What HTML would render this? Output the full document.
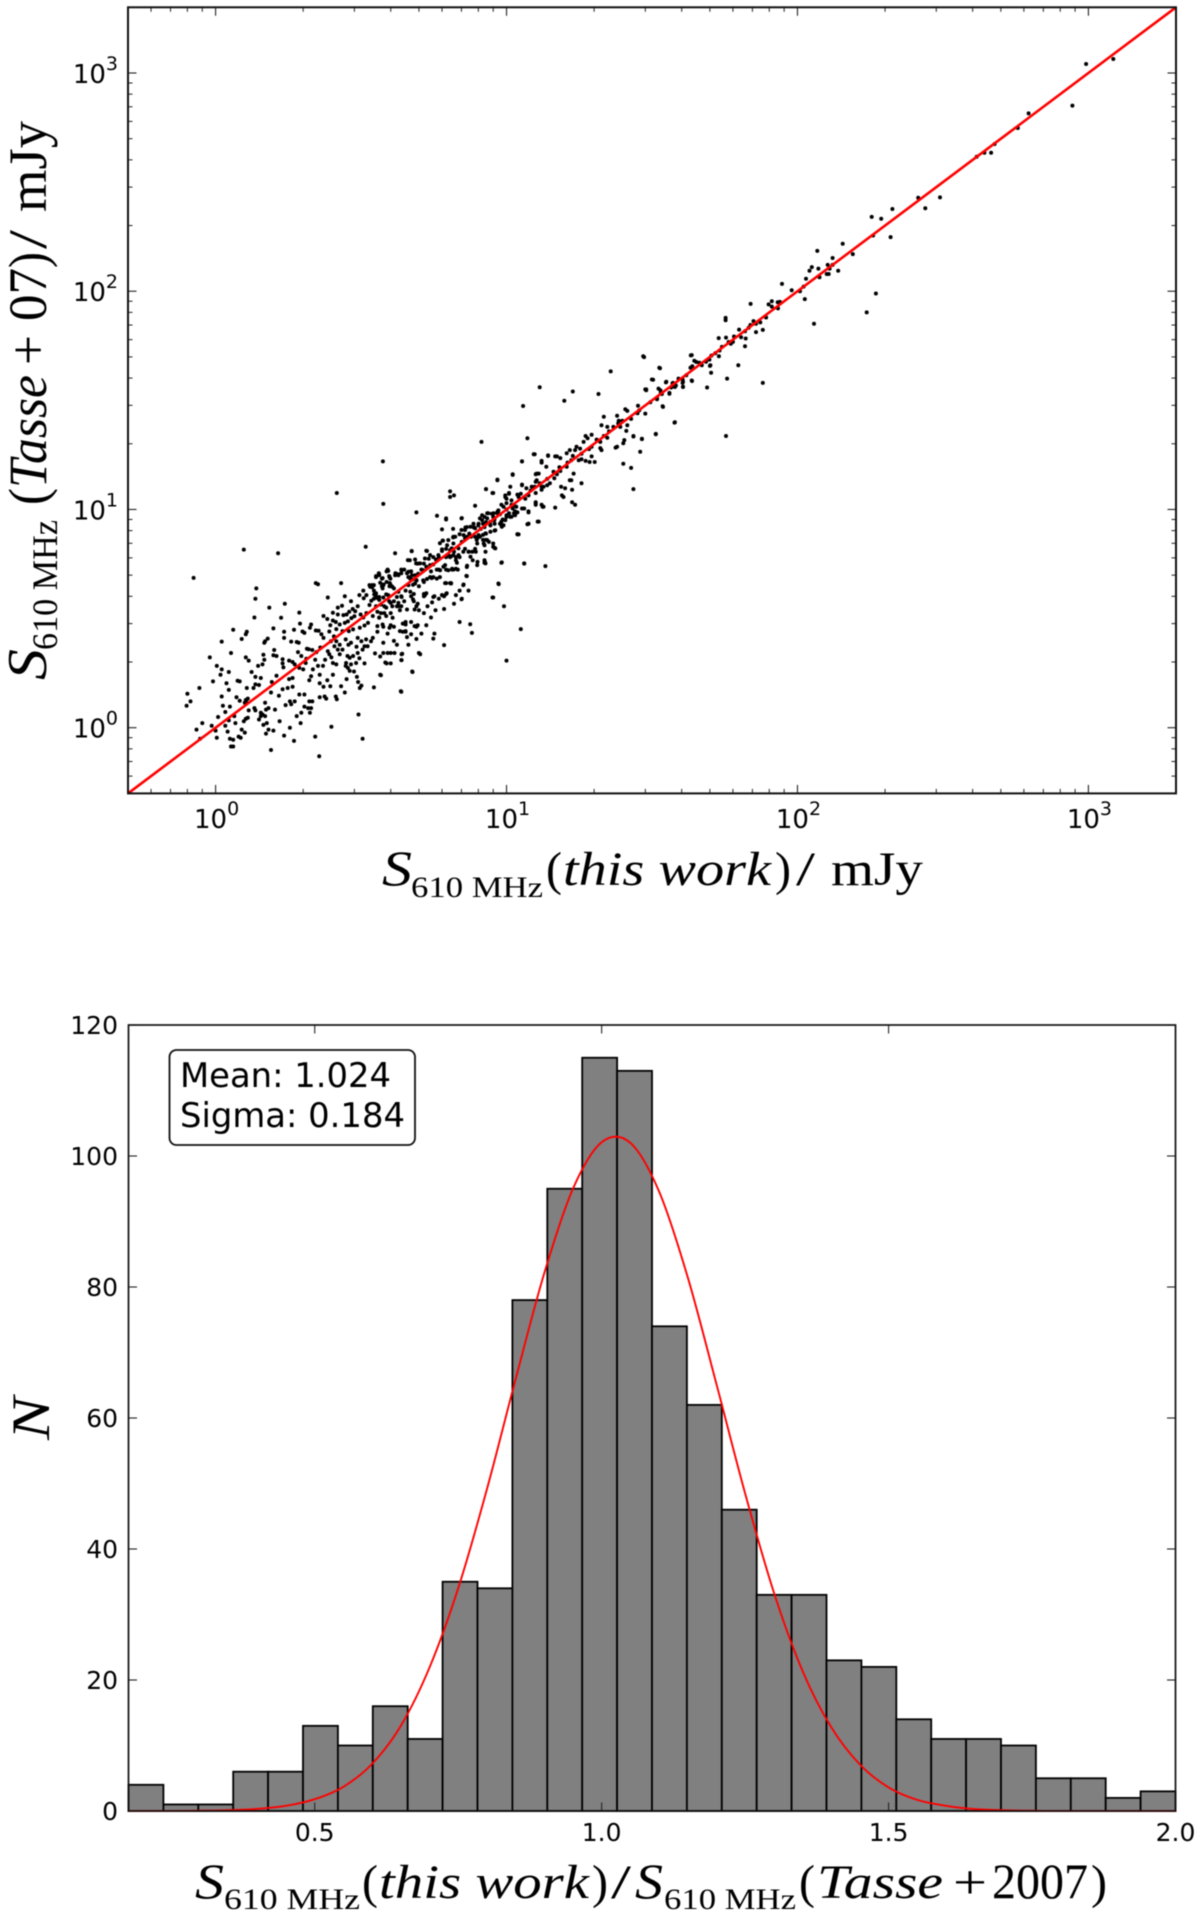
<!DOCTYPE html>
<html lang="en">
<head>
<meta charset="utf-8">
<title>S610 MHz flux comparison</title>
<style>
html,body{margin:0;padding:0;background:#fff;}
#figure{display:block;width:1200px;height:1914px;filter:blur(.45px);}
.sans{font-family:"DejaVu Sans","Liberation Sans",sans-serif;fill:#000;}
.serif{font-family:"Liberation Serif",serif;fill:#000;}
.it{font-style:italic;}
</style>
</head>
<body>
<svg id="figure" xmlns="http://www.w3.org/2000/svg" width="1200" height="1914" viewBox="0 0 1200 1914">
  <rect x="0" y="0" width="1200" height="1914" fill="#fff"/>

  <g id="top-plot">
    <g id="top-points"></g>
    <line id="one-to-one" stroke="#f00" stroke-width="2.6"/>
    <g id="top-ticks"></g>
    <rect x="128" y="7.3" width="1048" height="786.1" fill="none" stroke="#111" stroke-width="2"/>
    <g id="top-tick-labels"></g>
  </g>

  <g>
    <text class="serif it" x="382" y="885" font-size="50" textLength="30" lengthAdjust="spacingAndGlyphs">S</text>
    <text class="serif" x="411" y="897" font-size="30" textLength="132" lengthAdjust="spacingAndGlyphs">610 MHz</text>
    <text class="serif" x="546" y="885" font-size="48" textLength="16" lengthAdjust="spacingAndGlyphs">(</text>
    <text class="serif it" x="563" y="885" font-size="48" textLength="208" lengthAdjust="spacingAndGlyphs">this work</text>
    <text class="serif" x="775" y="885" font-size="48" textLength="16" lengthAdjust="spacingAndGlyphs">)</text>
    <text class="serif" x="796" y="885" font-size="48" textLength="19" lengthAdjust="spacingAndGlyphs">/</text>
    <text class="serif" x="831" y="885" font-size="48" textLength="92" lengthAdjust="spacingAndGlyphs">mJy</text>
  </g>

  <g transform="translate(46,0) rotate(-90)">
    <text class="serif it" x="-680" y="0" font-size="56" textLength="31" lengthAdjust="spacingAndGlyphs">S</text>
    <text class="serif" x="-650" y="11" font-size="36" textLength="130" lengthAdjust="spacingAndGlyphs">610 MHz</text>
    <text class="serif" x="-505" y="0" font-size="54" textLength="17" lengthAdjust="spacingAndGlyphs">(</text>
    <text class="serif it" x="-488" y="0" font-size="54" textLength="113" lengthAdjust="spacingAndGlyphs">Tasse</text>
    <text class="serif" x="-365" y="0" font-size="54" textLength="30" lengthAdjust="spacingAndGlyphs">+</text>
    <text class="serif" x="-321" y="0" font-size="54" textLength="53" lengthAdjust="spacingAndGlyphs">07</text>
    <text class="serif" x="-268" y="0" font-size="54" textLength="16" lengthAdjust="spacingAndGlyphs">)</text>
    <text class="serif" x="-249" y="0" font-size="54" textLength="19" lengthAdjust="spacingAndGlyphs">/</text>
    <text class="serif" x="-212" y="0" font-size="54" textLength="91" lengthAdjust="spacingAndGlyphs">mJy</text>
  </g>

  <g id="bottom-plot">
    <g id="bars"></g>
    <path id="gauss-curve" fill="none" stroke="#f00" stroke-width="1.9"/>
    <g id="bottom-ticks"></g>
    <rect x="128.5" y="1025" width="1047" height="786" fill="none" stroke="#111" stroke-width="1.7"/>
    <g id="bottom-tick-labels"></g>
    <g>
      <rect x="169.5" y="1050" width="245.5" height="95" rx="7" ry="7" fill="#fff" stroke="#111" stroke-width="1.8"/>
      <text class="sans" x="180" y="1087" font-size="34" textLength="211" lengthAdjust="spacingAndGlyphs">Mean: 1.024</text>
      <text class="sans" x="180" y="1127" font-size="34" textLength="225" lengthAdjust="spacingAndGlyphs">Sigma: 0.184</text>
    </g>
  </g>

  <g>
    <text class="serif it" x="195" y="1898" font-size="50" textLength="29" lengthAdjust="spacingAndGlyphs">S</text>
    <text class="serif" x="224" y="1909" font-size="30" textLength="136" lengthAdjust="spacingAndGlyphs">610 MHz</text>
    <text class="serif" x="362" y="1898" font-size="48" textLength="16" lengthAdjust="spacingAndGlyphs">(</text>
    <text class="serif it" x="379" y="1898" font-size="48" textLength="210" lengthAdjust="spacingAndGlyphs">this work</text>
    <text class="serif" x="592" y="1898" font-size="48" textLength="16" lengthAdjust="spacingAndGlyphs">)</text>
    <text class="serif" x="611" y="1898" font-size="48" textLength="20" lengthAdjust="spacingAndGlyphs">/</text>
    <text class="serif it" x="635" y="1898" font-size="50" textLength="28" lengthAdjust="spacingAndGlyphs">S</text>
    <text class="serif" x="664" y="1909" font-size="30" textLength="132" lengthAdjust="spacingAndGlyphs">610 MHz</text>
    <text class="serif" x="799" y="1898" font-size="48" textLength="16" lengthAdjust="spacingAndGlyphs">(</text>
    <text class="serif it" x="817" y="1898" font-size="48" textLength="126" lengthAdjust="spacingAndGlyphs">Tasse</text>
    <text class="serif" x="953" y="1898" font-size="48" textLength="34" lengthAdjust="spacingAndGlyphs">+</text>
    <text class="serif" x="992" y="1898" font-size="50" textLength="96" lengthAdjust="spacingAndGlyphs">2007</text>
    <text class="serif" x="1091" y="1898" font-size="48" textLength="16" lengthAdjust="spacingAndGlyphs">)</text>
  </g>

  <text class="serif it" transform="translate(49,1440) rotate(-90)" x="0" y="0" font-size="54" textLength="43" lengthAdjust="spacingAndGlyphs">N</text>
</svg>

<script>
/* Scatter: [S610 this work (mJy), S610 Tasse+07 (mJy)], estimated by eye */
const fluxPairs = [
[.84,4.86],[1.25,6.55],[1.64,6.3],[3.76,16.6],[2.61,11.9],[3.77,10.6],[3.28,6.75],[4.14,6.3],[4.72,6.43],[5.33,6.45],[4.9,9.7],[5.77,9.35],[6.2,9],[7,9.1],[7.8,10.4],
[.8,1.43],[.82,1.32],[.795,1.26],[.88,1.52],[.9,1.05],[.86,.98],[.885,.89],[.955,2.1],[1.01,1.92],[1.05,1.85],[1.04,1.75],[1.11,1.8],[.98,1.63],[1.13,2.2],[1.05,2.48],[1.15,2.81],[1.23,2.55],[1.28,2.75],[1.27,2.68],[1.27,2.1],[1.3,2.03],[1.38,4.35],[1.37,3.9],[1.36,3.2],[1.53,3.55],[1.73,3.7],[1.68,3.19],[1.58,2.85],[1.51,2.56],[1.47,2.45],[1.48,2.49],[1.46,2.16],[1.47,2.05],[1.59,2.27],[1.62,2.13],[1.94,3.37],[1.95,3],[1.86,2.81],[1.99,2.76],[2.02,2.72],[2.13,2.97],[2.11,2.87],[2.21,2.79],[2.26,2.78],[2.21,4.6],[2.25,4.54],[2.43,3.95],[2.7,4.6],[1.72,2.75],[1.72,2.58],[1.82,2.48],[1.9,2.47],[1.93,2.45],[1.58,2.15],[1.4,1.92],[1.33,1.8],[1.45,1.95],[1.37,1.71],[1.43,1.69],[1.37,1.58],[1.41,1.57],[1.19,1.64],[1.21,1.63],[1.09,1.6],[1.11,1.49],[1.28,1.52],[1.05,1.39],[1.21,1.33],[1.27,1.34],[1.29,1.36],[1.26,1.3],[1.28,1.3],[1.06,1.26],[1.08,1.18],[1.16,1.13],[1.11,1.08],[1.17,1.05],[.97,1.02],[1,.97],[1.01,.9],[1.1,.96],[1.12,.89],[1.15,.88],[1.2,.91],[1.22,.9],[1.23,.98],[1.26,.95],[1.13,.82],[1.15,.82],[1.55,.79],[1.49,.94],[1.52,.98],[1.46,1.03],[1.25,1.07],[1.27,1.1],[1.29,1.11],[1.36,1.23],[1.37,1.2],[1.48,1.3],[1.49,1.21],[1.52,1.23],[1.45,1.15],[1.43,1.13],[1.41,1.09],[1.48,1.13],[1.43,1.17],[1.6,1.21],[1.66,1.07],[1.8,1],[1.86,.87],[2.2,.91],[2.5,1.01],[2.27,.74],[3.1,1.15],[3.2,.89],[4.33,1.47],[3.5,1.53],[3.68,1.75],[3.83,1.99],[4.74,1.81],[4.35,2.04],[4.38,2.18],[4,2.2],[3.68,2.12],[3.53,2.19],[3.13,1.52],[3.17,1.56],[3.09,1.62],[3.06,1.71],[2.99,1.81],[2.82,1.67],
[1.7,2.06],[1.7,1.97],[1.71,1.89],[1.79,2.03],[1.84,2],[1.87,1.95],[1.97,2.13],[2.05,2.07],[2.09,2.29],[2.15,2.27],[2.06,2.3],[2.29,2.33],[2.31,2.68],[2.35,2.58],[2.46,2.76],[2.6,2.83],[2.49,2.49],[2.56,2.36],[2.43,2.24],[2.46,2.17],[2.63,2.28],[2.67,2.17],[2.53,1.98],[2.6,1.95],[2.25,1.92],[2.34,1.92],[2.16,1.85],[2.13,1.72],[2.1,1.65],[2.28,1.75],[1.94,1.88],[2,1.85],[1.84,1.69],[1.79,1.67],[1.7,1.5],[1.77,1.52],[1.84,1.54],[1.94,1.42],[2.02,1.42],[1.8,1.32],[1.87,1.32],[1.82,1.28],[2.1,1.32],[2.15,1.32],[2.08,1.23],[2.13,1.23],[2.11,1.17],[1.97,1.17],[2.28,1.38],[2.37,1.39],[2.4,1.36],[2.59,1.39],[2.61,1.35],[2.35,1.54],[2.53,1.75],[2.81,1.98],[2.85,1.88],[2.89,1.82],[2.8,1.92],[2.92,1.95],[3.25,1.97],[3.04,1.98],[2.97,2.13],[2.84,2.13],[2.89,2.09],[2.73,2.28],[2.67,2.4],[2.6,2.49],
[2.53,3.36],[2.63,3.3],[2.63,3.55],[2.78,4],[2.92,3.8],[2.88,3.4],[3,3.24],[3.08,3.6],[3.23,3.92],[2.53,3.1],[2.59,3.05],[2.67,2.97],[2.78,3.02],[2.85,3.07],[2.93,3.18],[2.73,2.77],[2.87,2.77],[2.97,2.82],[3.13,2.87],[3.25,2.94],[3.34,3.02],[2.8,2.54],[2.92,2.45],[3.08,2.58],[3.17,2.49],[3.25,2.36],[3.33,2.36],[3.42,2.49],[3.47,2.58],[3.29,2.54],[3.38,4.5],[3.56,4.95],[3.64,5.1],[3.9,5.3],[3.75,4.85],[3.96,4.9],[3.51,4.08],[3.56,4],[3.6,3.93],[3.75,4.35],[3.96,4.45],[3.86,4.08],[4.2,5.05],[4.35,5.3],[4.55,5.1],[4.7,5.2],[4.77,4.78],[4.77,4.52],[3.56,3.6],[3.7,3.67],[3.86,3.55],[4,3.73],[4.2,3.6],[4.35,3.6],[4.55,3.48],[4.77,3.87],[4.83,3.48],[3.47,3.25],[3.65,3.19],[3.86,3.25],[4.06,3.19],[4.25,3.73],[4.5,2.97],[4.83,2.92],[4.3,2.77],[4.5,2.77],[3.96,2.87],[3.75,2.97],[3.6,2.92],[4.55,2.6],[5,2.2],
[6.4,12.1],[6.6,11.6],[6.4,11.4],[8.5,12.4],[8.95,11.9],[9.3,13.6],[10.5,14.5],[11.3,16.6],[12.5,17.9],[13.2,16.4],[13.9,17.7],[9.9,11.6],[10.2,11.8],[10,11.2],[11.2,11.8],[11.3,12.9],[12.1,12.2],[12.5,12.7],[12.9,14.6],[12.6,13.4],[13.2,12.7],[9.6,10.5],[10,10.7],[10.5,10.1],[10.9,9.7],[11.9,9.7],[12.6,10.7],[13.4,10.3],[12.8,8.8],[11.9,8.6],[9.3,9.6],[9.7,9],[10.2,9.6],[9.6,8.5],[9.1,8],[10.9,7.7],[11.5,5.65],[13.6,5.5],[9.4,4.55],[8.95,3.95],[9.8,3.6],[11.2,2.83],[10,2.03],[7.6,2.72],[7.5,2.98],[6.9,3.05],[6.1,2.39],[5.65,2.7],[5.6,2.56],[5.05,2.17],[4.75,1.8],[4.35,1.46],[4,1.97],[4.36,2.04],[4.36,2.17],[3.87,1.97],[3.7,1.74],[6.1,4],[6.2,4.1],[6,4.05],[5.65,4],[5.85,3.9],[7,3.88],[7.1,4.5],[7.3,4.95],[6.2,4.6],[6.4,4.6],[6.1,3.5],[5,3.45],[5.2,3.35],[5.2,4.1],[5.2,4],[4.95,3.7],[4.9,3.6],[4.7,3.05],[4.95,2.95],[4.9,2.9],[4.5,3.05],[4.4,3],[4.5,2.75],[4.4,2.75],[4.1,2.9],[3.9,2.7],[3.77,2.9],[4,2.95],[3.77,2.45],[3.6,2.75],[3.77,2.2],[3.9,2.2],
[5.2,4.65],[5.33,4.8],[5,4.45],[5.6,4.9],[5.9,4.9],[5.1,5.3],[5.6,5.6],[5.85,5.3],[4.95,5.65],[5.2,5.65],[5.4,5.95],[5.6,6.05],[5.85,6.05],[6.2,6.05],[6.4,6.05],[6.7,5.85],[6.5,5.3],[6.7,5.35],[4.65,5.85],[4.7,5.2],[4.45,5.3],[4.35,5.1],[4.85,5],[4.6,4.9],[4.25,5],[4.15,5.1],[3.87,5.2],[3.95,4.95],[3.65,5],[3.5,4.5],[3.45,4.4],[3.87,4.65],[4,4.5],[3.77,4.5],[4.1,4.35],[4.25,4.2],[4.5,4.25],[4.7,4],[4.35,4],[4.45,3.8],[4.8,4.1],[4.8,3.8],[4.05,3.6],[4.25,3.6],[4.3,3.45],[4,3.35],[3.8,3.6],[3.7,3.35],[3.6,3.4],[3.65,3.2],[3.8,3.35],[3.55,4.1],[3.6,3.95],[3.65,3.85],[3.5,3.9],[3.77,3.95],[3.95,3.8],[4.1,3.8],
[5.9,7],[6.05,7.2],[6.2,6.6],[6.4,6.5],[6.45,6.1],[6.6,6.4],[6.7,6.05],[7.2,6.6],[7.4,6.4],[7.8,6.6],[7.55,7.5],[7.9,7.25],[7.2,7.35],[6,8.1],[6.55,8.15],[7,8.05],[7.3,8.3],[7.8,8.2],[8.4,8.3],[8.3,8.6],[8.1,9.1],[8.4,9.25],[8.65,9.6],[9,9.25],[9.3,9.75],[7.45,7.75],[8,8.45],[8.5,8.75],[8.8,8.45],[9.1,8.6],[9.6,8.8],[8.5,7.75],[8.7,7.1],[8.4,6.85],[9,6.75],[8.3,7.25],[7.8,7.5],[9.6,5.7],[8.4,5.7],[7.95,5.75],[7.3,5.45],[6.8,5.3],[6.5,5.35],[6.2,5.3],[6.45,4.6],[7.65,5.85],[7.1,6.4],[6.9,6.05],[8.4,5.85],[8.1,7.5],[8.3,7.65],[8.5,7.25],
[8.2,20.4],[11.4,29.8],[11.8,21.2],[13,36.3],[15.8,31.5],[16.9,34.7],[20.7,33.8],[22.8,42.9],[29.7,49.9],[33.7,44.4],[43,50.8],[44.9,47.4],[42.9,44.6],[43.4,38.8],[40.4,38.5],[40.4,36.4],[37.9,36.4],[36.3,33.9],[37.2,37.8],[35.3,38.2],[31.9,39.3],[30.2,35.2],[33.3,35.8],[33.8,35.2],[32.9,32],[34.5,29.5],[37.8,25],[32.6,22.2],[28.8,18.4],[29.2,21],[27.3,21.7],[26.8,15.5],[25.2,16.2],[27.3,12.4],[28.3,29.9],[30,27.5],[28.6,28.5],[25.6,28.8],[26,28.3],[26,24.3],[25.8,22.9],[24.6,23.9],[25,25.5],[24,26.9],[24.3,25.5],[23.3,23.9],[22.2,23.9],[21.6,26.6],[21.2,24.3],[25.4,20.8],[25.2,20.1],[24,19.4],[23.7,19.2],[22.2,21.3],[21.6,21.7],[18.7,21.7],[19,21.2],[18.4,20.4],[19.6,22],[20.4,20.9],[21,20.4],[21.2,18.7],[21,19.1],[20.1,16.5],[19.6,17.5],[19.3,16.5],[17.9,19],[17.4,19.4],[17.2,18.7],[18.1,18],[18.1,17],[17.7,16.8],[18.7,16.7],[16.5,18.7],[16.1,18.1],[15.3,17.2],[14.9,17.5],[13.9,17.6],[14.7,17.5],[12.4,17.9],[13.2,16.7],[13.7,15.7],[11.3,16.6],[16.7,16.8],[16.1,15.7],[17,14.6],[16.5,13.6],[18.1,13.2],[16.7,13.6],[14.6,13.9],[15.3,15],[14.9,14.5],[12.6,14.5],[12.7,14.6],[10.5,14.4],[9.3,13.7],[8.5,12.4],[9,11.9],[12.7,13.6],[13,13.2],[13.4,12.7],[13.8,12.9],[14.1,13.2],[13.2,12.3],[12.6,11.9],[12.2,12.7],[11.7,12.5],[11.3,13],[10.3,12.7],[10.2,11.9],[9.9,11.4],[11,11.4],[15.4,12.7],[15.9,12.5],[16.8,12.3],[15.7,11.4],[15.5,11.6],[16.8,10.8],[17.2,10.5],[14.7,10.2],[13.3,10.3],[13.2,10.5],[12.6,10.8],[12.6,10.5],[11.5,10.1],[11.9,9.8],[10.8,10.3],[10.4,10.5],[11.9,8.6],[12.9,8.8],[10.9,7.7],[9.1,6.67],[10.7,9.8],[10.6,9.6],[10,9.25],[10.3,9.25],[19.6,19.4],
[982,1100],[1218,1159],[881,709],[623,653],[572,560],[476,473],[463,431],[439,431],[413,413],[309,269],[260,268],[275,240],[212,238],[194,215],[180,219],[182,180],[209,177],[186,97.6],[173,80],[143,165],[155,148],[117,153],[132,142],[127,132],[132,132],[112,129],[110,124],[118,127],[129,127],[138,124],[126,120],[128,120],[119,116],[107,114],[105,105],[88.5,108],[95.5,101],[102,100],[106,92],[114,71],[87,89.4],[85.5,89],[81.6,90],[79.6,87],[81.6,85],[85.7,83.4],[69,87.5],[78,75.8],[74.5,72],[70.6,73],[68.9,70],[76,66.5],[72,65],[56.6,75.5],[56.6,73.6],[63,66.7],[66,65.6],[64,61.5],[66.4,60.7],[66,56],[56.8,61.3],[53.6,61],[60,58.6],[59,57.5],[53.7,50.4],[54,53.5],[50.6,50.7],[49.8,48.6],[50.2,45.8],[50,45.5],[46.9,45.8],[50.5,42.3],[43.5,45.3],[44.2,48],[43.3,51],[43.3,39],[48.9,36.2],[57.3,39.8],[62.6,45.8],[76,38],[33.5,44.6],[29.5,50.4],[31.6,39.4],[30,35.5],[33.9,34.2],[35.4,38.5],[37.3,38],[38.2,37],[40.3,39.4],[40.3,38],[40.4,36.5],[36.3,34.2],[32.9,32.4],[30.2,35.5],[34.4,29.7],[37.9,25.1],[32.6,22.1],[56.8,21.7],[29.2,21.1],[27.3,21.6],
[2.35,3.25],[2.42,3.15],[2.48,2.95],[2.55,2.62],[2.72,3.62],[2.75,3.28],[2.82,3.3],[2.96,3.5],[3.02,3.42],[3.15,3.3],[3.22,3.2],[3.3,3.35],[3.38,3.65],[3.43,3.82],[3.3,4.05],[3.22,4.25],[3.12,4.05],[3.5,4.25],[3.68,4.62],[5.5,5.2],[5.72,5.9],[6,6.45],[6.25,6.85],[6.55,7.45],[6.9,7.7],[7.2,8.05],[7.7,8.6],[8.15,8.15],[8.9,9.55],[9.1,9.1],[9.5,9.5],[10,10],[10.4,11],[10.9,11.7],[11.6,11.2],[11.9,11.6],[13.8,13.8],[14.5,14.9],[15.2,15.6],[16.2,16.4],[16.9,17.6],[19.2,18.9],[22.5,22.8],[24.2,24.8],[26.8,26],[28.2,27.6],[31.2,31],[34.2,33.8],[36.8,36.2],[39,39.8],[41.5,41.2],[46,47],[48.5,47.5],[52.2,52],[55,55.6],[58,58.5],[60.5,62],[68,68],[72,71],
[3.56,4.9],[3.65,5.05],[3.73,4.82],[3.92,5.23],[3.99,4.82],[3.78,4.53],[3.73,4.45],[3.97,4.6],[4.05,4.42],[3.45,4.5],[3.4,4.42],[4.58,5.86],[4.72,6.45],[5.3,6.47],[4.85,5.9],[4.89,5.66],[5.04,5.66],[5.24,5.96],[5.46,6.18],[5.83,6.18],[6,6.56],[6.31,7.24],[6.03,7.2],[6.57,7.5],[6.66,7.5],[6.2,9.1],[7.02,9.13],[7.22,8.27],[7.52,8.33],[7.73,8.27],[8.24,9.4],[8.58,9.6],[9.03,9.6],[9.38,9.9],[9.76,10.3],[10.6,10.5],[11.3,10.1],[11.9,9.76],[11.8,8.56],[11,7.69],[11.5,5.66],[9.63,5.72],[9.38,4.58],[9,3.95],[7.93,5.56],[8.42,5.76],[8.47,5.66],[7.32,5.52],[7.28,4.96],[7.12,4.53],[6.45,4.58],[6.15,4.6],[5.76,5.3],[5.91,5.27],[6.07,5.46],[6.15,5.56],[6.57,5.3],[6.31,5.27],[5.46,5.56],[5.3,5.46],[5.17,5.27],[4.97,5.08],[4.73,5],[4.6,5.18],[4.36,5.27],[4.25,5.05],[4.14,5],[4.67,4.82],[4.91,4.73],[4.85,4.58],[5.17,4.73],[5.46,4.9],[5.76,4.82],[5.53,4.85],[4.6,4.5],[4.67,4.2],[5.3,4.13],[5.24,4.05],[5.6,3.97],[6,4.05],[6.23,4.13],[7.02,3.9],[3.56,4.13],[3.65,3.97],[3.92,4.05],[4.2,3.97],[4.36,3.97],
[6.31,6.18],[6.57,6.18],[6.84,6.18],[6.75,5.7],[7.42,6.4],[7.63,6.4],[7.52,6.07],[7.84,6.4],[8.47,6.4],[7.93,6.98],[8.35,6.98],[8.58,7.24],[9,6.98],[9.15,6.63],[7.93,7.37],[8.02,7.63],[8.47,7.77],[8.8,7.9],[9.15,8.03],[9.5,8.6],[9.76,8.47],[9.63,8.33],[10.4,9.26],[10.7,9.4],[10,9.4],[9.9,8.94],[7.73,8.27],[8.02,8.6],[8.24,8.94],[8.58,9.1],[8.8,8.77],[9.08,8.94],[7.12,7.63],[7.32,7.5],[7.02,7.1],[6.84,6.63],[6.48,6.63],[6.57,6.98],
[1.62,1.73],[1.56,1.62],[1.55,1.45],[1.65,1.4],[1.74,1.27],[1.35,1.52],[1.3,1.2],[1.18,1.38],[1.12,1.25],[1.02,1.12],[1.08,1.02],[1.5,1.05],[1.58,.97],[1.72,.92],[1.9,1.13],[1.96,1.05],[2.02,1.25],[2.28,1.6],[2.42,1.65],[2.48,1.55],[2.7,1.55],[2.78,1.45],[2.5,2.1],[2.38,2.05],[2.2,2.05],[2.04,1.98],[1.92,2.22],[2.22,2.22],[3.08,2.2],[3.12,2.08],[3.2,2.28],[3.05,2.35],[2.86,2.4],[4.1,2.5],[4.2,2.4],[4.12,2.2],[4.6,2.4],[4.7,2.68],[4.9,2.55],[5.1,2.7],[5.3,2.95],[5.5,3.2],[5.35,3.6],[5.55,3.75],[5.7,3.45],[6.6,3.7],[6.7,4.05],[6.9,4.25],[7.4,4.25]
];
const diagonalX = [0.5, 2000];
const diagonalY = [0.5, 2000];
const majorExponents = [0, 1, 2, 3];
const minorMultiples = [2, 3, 4, 5, 6, 7, 8, 9];

/* Histogram */
const binCounts = [4,1,1,6,6,13,10,16,11,35,34,78,95,115,113,74,62,46,33,33,23,22,14,11,11,10,5,5,2,3];
const binRange = [0.1755, 2.0];
const gaussX = [0.1755,0.25,0.30,0.35,0.40,0.45,0.50,0.55,0.60,0.65,0.70,0.75,0.80,0.85,0.90,0.95,1.00,1.05,1.10,1.15,1.20,1.25,1.30,1.35,1.40,1.45,1.50,1.55,1.60,1.65,1.70,1.75,1.80,2.0];
const gaussN = [0,0.01,0.05,0.13,0.33,0.79,1.8,3.7,7.2,13,21.9,34,49.1,65.9,82.1,95,102.1,102,94.6,81.5,65.2,48.5,33.4,21.4,12.8,7.1,3.6,1.7,0.8,0.3,0.12,0.04,0.01,0];
const histYTicks = [0, 20, 40, 60, 80, 100, 120];
const histXTicks = [0.5, 1.0, 1.5, 2.0];
const histXTickLabels = ['0.5', '1.0', '1.5', '2.0'];

const SVGNS = 'http://www.w3.org/2000/svg';
const L = Math.log10;
const topBox = {l:128, r:1176, t:7.3, b:793.4};
const botBox = {l:128.5, r:1175.5, t:1025, b:1811};
function xTop(v){ return topBox.l + (L(v)-L(0.5))/(L(2000)-L(0.5))*(topBox.r-topBox.l); }
function yTop(v){ return topBox.b - (L(v)-L(0.5))/(L(2000)-L(0.5))*(topBox.b-topBox.t); }
function xBot(v){ return botBox.l + (v-binRange[0])/(binRange[1]-binRange[0])*(botBox.r-botBox.l); }
function yBot(v){ return botBox.b - v/120*(botBox.b-botBox.t); }
function node(tag, parent){ const el = document.createElementNS(SVGNS, tag); parent.appendChild(el); return el; }
function tickLine(parent, x1, y1, x2, y2, sw){
  const el = node('line', parent);
  
  
  el.setAttribute('x1', x1); el.setAttribute('y1', y1);
  el.setAttribute('x2', x2); el.setAttribute('y2', y2);
  el.setAttribute('stroke', '#222'); el.setAttribute('stroke-width', sw);
}

/* scatter points */
const topPoints = document.getElementById('top-points');
fluxPairs.forEach(function(p){
  const c = node('circle', topPoints);
  
  
  c.setAttribute('cx', xTop(p[0]).toFixed(1));
  c.setAttribute('cy', yTop(p[1]).toFixed(1));
  c.setAttribute('r', '2');
  c.setAttribute('fill', '#000');
});

/* one-to-one line */
const oneToOne = document.getElementById('one-to-one');
oneToOne.setAttribute('x1', xTop(diagonalX[0]));
oneToOne.setAttribute('y1', yTop(diagonalY[0]));
oneToOne.setAttribute('x2', xTop(diagonalX[1]));
oneToOne.setAttribute('y2', yTop(diagonalY[1]));

/* scatter ticks */
const topTicks = document.getElementById('top-ticks');
const topLabels = document.getElementById('top-tick-labels');
[-1].concat(majorExponents).forEach(function(e){
  const base = Math.pow(10, e);
  if (e >= 0) {
    const x = xTop(base), y = yTop(base);
    tickLine(topTicks, x, topBox.b, x, topBox.b-8.5, 1.1);
    tickLine(topTicks, x, topBox.t, x, topBox.t+8.5, 1.1);
    tickLine(topTicks, topBox.l, y, topBox.l+8.5, y, 1.1);
    tickLine(topTicks, topBox.r, y, topBox.r-8.5, y, 1.1);
  }
  minorMultiples.forEach(function(m){
    const v = base*m;
    if (v > 0.5 && v < 2000) {
      const x = xTop(v), y = yTop(v);
      tickLine(topTicks, x, topBox.b, x, topBox.b-4.5, 1);
      tickLine(topTicks, x, topBox.t, x, topBox.t+4.5, 1);
      tickLine(topTicks, topBox.l, y, topBox.l+4.5, y, 1);
      tickLine(topTicks, topBox.r, y, topBox.r-4.5, y, 1);
    }
  });
});
function powerLabel(parent, x, y, anchor, e){
  const t = node('text', parent);
  
  
  t.setAttribute('class', 'sans');
  t.setAttribute('x', x);
  t.setAttribute('y', y);
  t.setAttribute('text-anchor', anchor);
  t.setAttribute('font-size', '26');
  const a = node('tspan', t);
  a.textContent = '10';
  const b = node('tspan', t);
  b.setAttribute('font-size', '19');
  b.setAttribute('dy', '-13');
  b.textContent = String(e);
}
majorExponents.forEach(function(e){
  const v = Math.pow(10, e);
  powerLabel(topLabels, xTop(v)+1, 828, 'middle', e);
  powerLabel(topLabels, 118, yTop(v)+10, 'end', e);
});

/* histogram bars */
const bars = document.getElementById('bars');
const binWidth = (binRange[1]-binRange[0])/binCounts.length;
binCounts.forEach(function(n, i){
  const x0 = xBot(binRange[0]+i*binWidth), x1 = xBot(binRange[0]+(i+1)*binWidth);
  const r = node('rect', bars);
  
  
  r.setAttribute('x', x0.toFixed(2));
  r.setAttribute('y', yBot(n).toFixed(2));
  r.setAttribute('width', (x1-x0).toFixed(2));
  r.setAttribute('height', (yBot(0)-yBot(n)).toFixed(2));
  r.setAttribute('fill', '#808080');
  r.setAttribute('stroke', '#000');
  r.setAttribute('stroke-width', '1.8');
});

/* gaussian curve: smooth spline through the read points */
(function(){
  const pts = gaussX.map(function(x, i){ return [xBot(x), yBot(gaussN[i])]; });
  let d = 'M' + pts[0][0].toFixed(2) + ' ' + pts[0][1].toFixed(2);
  for (let i = 0; i < pts.length-1; i++) {
    const p0 = pts[Math.max(i-1,0)], p1 = pts[i], p2 = pts[i+1], p3 = pts[Math.min(i+2,pts.length-1)];
    const c1x = p1[0]+(p2[0]-p0[0])/6, c1y = p1[1]+(p2[1]-p0[1])/6;
    const c2x = p2[0]-(p3[0]-p1[0])/6, c2y = p2[1]-(p3[1]-p1[1])/6;
    d += 'C' + c1x.toFixed(2) + ' ' + c1y.toFixed(2) + ' ' + c2x.toFixed(2) + ' ' + c2y.toFixed(2) + ' ' + p2[0].toFixed(2) + ' ' + p2[1].toFixed(2);
  }
  document.getElementById('gauss-curve').setAttribute('d', d);
})();

/* histogram ticks and labels */
const botTicks = document.getElementById('bottom-ticks');
const botLabels = document.getElementById('bottom-tick-labels');
histYTicks.forEach(function(v){
  const y = yBot(v);
  tickLine(botTicks, botBox.l, y, botBox.l+8.5, y, 1.1);
  tickLine(botTicks, botBox.r, y, botBox.r-8.5, y, 1.1);
  const t = node('text', botLabels);
  
  
  t.setAttribute('class', 'sans');
  t.setAttribute('x', 118);
  t.setAttribute('y', y+9);
  t.setAttribute('text-anchor', 'end');
  t.setAttribute('font-size', '25');
  t.textContent = String(v);
});
histXTicks.forEach(function(v, i){
  const x = xBot(v);
  tickLine(botTicks, x, botBox.b, x, botBox.b-8.5, 1.1);
  tickLine(botTicks, x, botBox.t, x, botBox.t+8.5, 1.1);
  const t = node('text', botLabels);
  
  
  t.setAttribute('class', 'sans');
  t.setAttribute('x', x);
  t.setAttribute('y', 1841);
  t.setAttribute('text-anchor', 'middle');
  t.setAttribute('font-size', '25');
  t.textContent = histXTickLabels[i];
});
</script>
</body>
</html>
